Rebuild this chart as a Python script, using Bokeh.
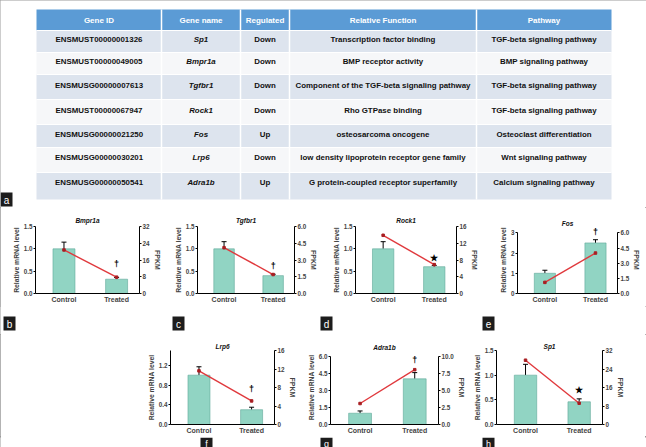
from bokeh.plotting import figure
from bokeh.models import (Range1d, LinearAxis, FixedTicker, NumeralTickFormatter,
                          Label, Whisker, TeeHead, ColumnDataSource)
from bokeh.layouts import column, row
from bokeh.embed import file_html
from bokeh.resources import INLINE
from bokeh.core.properties import value

# ---------------- table data ----------------
table_headers = ["Gene ID", "Gene name", "Regulated", "Relative Function", "Pathway"]
gene_ids = ["ENSMUST00000001326", "ENSMUST00000049005", "ENSMUSG00000007613",
            "ENSMUST00000067947", "ENSMUSG00000021250", "ENSMUSG00000030201",
            "ENSMUSG00000050541"]
gene_names = ["Sp1", "Bmpr1a", "Tgfbr1", "Rock1", "Fos", "Lrp6", "Adra1b"]
regulated = ["Down", "Down", "Down", "Down", "Up", "Down", "Up"]
functions = ["Transcription factor binding", "BMP receptor activity",
             "Component of the TGF-beta signaling pathway", "Rho GTPase binding",
             "osteosarcoma oncogene", "low density lipoprotein receptor gene family",
             "G protein-coupled receptor superfamily"]
pathways = ["TGF-beta signaling pathway", "BMP signaling pathway",
            "TGF-beta signaling pathway", "TGF-beta signaling pathway",
            "Osteoclast differentiation", "Wnt signaling pathway",
            "Calcium signaling pathway"]

# ---------------- chart data ----------------
chart_genes = ["Bmpr1a", "Tgfbr1", "Rock1", "Fos", "Lrp6", "Adra1b", "Sp1"]
categories = ["Control", "Treated"]
mrna_control = [1.0, 1.0, 1.0, 1.0, 1.0, 1.0, 1.0]
mrna_treated = [0.32, 0.40, 0.60, 2.50, 0.30, 4.05, 0.46]
mrna_err_control = [0.15, 0.16, 0.16, 0.15, 0.17, 0.20, 0.22]
mrna_err_treated = [0.04, 0.03, 0.03, 0.16, 0.05, 0.55, 0.06]
fpkm_control = [20.8, 4.1, 13.9, 1.1, 11.6, 3.1, 27.8]
fpkm_treated = [7.8, 1.7, 6.9, 4.0, 5.1, 8.1, 9.2]
sig_symbol = ["†", "†", "★", "†", "†", "†", "★"]
sig_level = [0.65, 0.61, 0.80, 3.05, 0.72, 5.74, 0.69]
left_max = [1.5, 1.5, 1.5, 3.0, 1.5, 6.0, 1.5]
left_ticks = [[0, 0.5, 1.0, 1.5], [0, 0.5, 1.0, 1.5], [0, 0.5, 1.0, 1.5],
              [0, 1, 2, 3], [0, 0.4, 0.8, 1.2], [0, 1.5, 3.0, 4.5, 6.0],
              [0, 0.5, 1.0, 1.5]]
right_max = [32, 6, 16, 6, 16, 10, 32]
right_ticks = [[0, 8, 16, 24, 32], [0, 1.5, 3.0, 4.5, 6.0], [0, 4, 8, 12, 16],
               [0, 1.5, 3.0, 4.5, 6.0], [0, 4, 8, 12, 16],
               [0, 2.5, 5.0, 7.5, 10.0], [0, 8, 16, 24, 32]]
panel_letters = ["a", "b", "c", "d", "e", "f", "g", "h"]

# ---------------- layout / style (pixel positions) ----------------
FONT = "Liberation Sans"
PW, PH = 646, 447

TABLE_BOTTOM = 207
col_edges = [36, 161, 240, 289, 476, 611]
header_band = (9, 30)
band_edges = [30, 52, 74, 99, 124, 147, 172, 199]
row_text_y = [39, 61, 85, 110, 134, 157, 182]

ROW1 = dict(top=TABLE_BOTTOM, bottom=306, ftop=226, fbot=293, title_gap=5)
STRIP1 = (306, 334)
ROW2 = dict(top=334, bottom=436, ftop=350, fbot=425, title_gap=2)
STRIP2 = (436, PH)
# fig_x0, fig_x1, frame_x0, frame_x1
row1_layout = [(0, 168, 35, 139), (168, 320, 197, 299),
               (320, 480, 355, 457), (480, PW, 517, 617)]
row2_layout = [(0, 302, 170, 274), (302, 470, 330, 438), (470, PW, 490, 602)]
# letter boxes: left, top, right, bottom, font px
letter_boxes = [(0, 192, 12, 206, 10),
                (3, 316, 15, 330, 10), (172, 316, 184, 330, 10), (320, 316, 332, 330, 10),
                (482, 316, 494, 330, 10),
                (200, 436, 212, 447, 9), (320, 436, 332, 447, 9), (482, 436, 494, 447, 9)]
HEADROOM_PX = 7   # extra space above an axis when a mark sits at its top

XR = (0.459, 2.435)
BAR_W = 0.418
BAR_FILL = "#91d4c3"
BAR_EDGE = "#5fa898"
RED = "#e0393d"
LETTER_BG = "#1c1c1c"


def fmt(ticks):
    return "0" if all(float(t).is_integer() for t in ticks) else "0.0"


def style_axis(ax):
    ax.axis_line_color = "black"
    ax.axis_line_width = 1
    ax.major_tick_line_color = "black"
    ax.major_tick_out = 2
    ax.major_tick_in = 0
    ax.minor_tick_line_color = None
    ax.major_label_text_font = FONT
    ax.major_label_text_font_style = "bold"
    ax.major_label_text_font_size = "6.3px"
    ax.major_label_standoff = 1
    ax.axis_label_text_font = FONT
    ax.axis_label_text_font_style = "bold"
    ax.axis_label_text_font_size = "6.8px"
    ax.axis_label_standoff = 1


def make_chart(i, lay, R):
    fx0, fx1, frx0, frx1 = lay
    frame_h = R["fbot"] - R["ftop"]
    pad = HEADROOM_PX if sig_level[i] > 0.95 * left_max[i] else 0
    grow = 1 + pad / frame_h
    p = figure(width=fx1 - fx0, height=R["bottom"] - R["top"],
               output_backend="svg", toolbar_location=None,
               x_range=Range1d(*XR), y_range=Range1d(0, left_max[i] * grow),
               min_border_left=frx0 - fx0, min_border_right=fx1 - frx1,
               min_border_top=R["ftop"] - pad - R["top"],
               min_border_bottom=R["bottom"] - R["fbot"],
               background_fill_color="white", border_fill_color="white",
               outline_line_color=None)
    p.grid.visible = False
    p.extra_y_ranges = {"fpkm": Range1d(0, right_max[i] * grow)}

    p.title.text = chart_genes[i]
    p.title.align = "center"
    p.title.text_font = FONT
    p.title.text_font_style = "bold italic"
    p.title.text_font_size = "6.5px"
    p.title.text_color = "#111111"
    p.title.standoff = max(0, R["title_gap"] - pad)

    xs = [1, 2]
    tops = [mrna_control[i], mrna_treated[i]]
    p.vbar(x=xs, top=tops, width=BAR_W, fill_color=BAR_FILL,
           line_color=BAR_EDGE, line_width=0.6)
    src = ColumnDataSource(dict(x=xs, lower=tops,
                                upper=[mrna_control[i] + mrna_err_control[i],
                                       mrna_treated[i] + mrna_err_treated[i]]))
    p.add_layout(Whisker(source=src, base="x", upper="upper", lower="lower",
                         dimension="height", line_color="black", line_width=1,
                         upper_head=TeeHead(size=5, line_color="black", line_width=1),
                         lower_head=None))
    fp = [fpkm_control[i], fpkm_treated[i]]
    p.line(x=xs, y=fp, y_range_name="fpkm", line_color=RED, line_width=1.4)
    p.scatter(x=xs, y=fp, y_range_name="fpkm", marker="square", size=2.5,
              color="#a81e22")

    xa = p.xaxis[0]
    style_axis(xa)
    xa.ticker = FixedTicker(ticks=xs)
    xa.major_label_overrides = {1: categories[0], 2: categories[1]}
    xa.major_tick_out = 0
    xa.major_label_text_font_size = "7px"
    xa.major_label_standoff = 2

    ya = p.yaxis[0]
    style_axis(ya)
    ya.ticker = FixedTicker(ticks=left_ticks[i])
    ya.formatter = NumeralTickFormatter(format=fmt(left_ticks[i]))
    ya.axis_label = "Relative mRNA level"
    ya.bounds = (0, left_max[i])

    ra = LinearAxis(y_range_name="fpkm", axis_label="FPKM",
                    ticker=FixedTicker(ticks=right_ticks[i]),
                    formatter=NumeralTickFormatter(format=fmt(right_ticks[i])),
                    bounds=(0, right_max[i]))
    style_axis(ra)
    ra.axis_label_text_font_size = "7px"
    p.add_layout(ra, "right")

    p.add_layout(Label(x=2, y=sig_level[i], text=sig_symbol[i], text_align="center",
                       text_baseline="middle", text_font=FONT, text_font_style="bold",
                       text_font_size="9px", text_color="black"))
    return p


def add_letters(p, idx):
    boxes = [letter_boxes[k] for k in idx]
    p.quad(left=[b[0] for b in boxes], right=[b[2] for b in boxes],
           top=[b[1] for b in boxes], bottom=[b[3] for b in boxes],
           fill_color=LETTER_BG, line_color=None)
    for k, b in zip(idx, boxes):
        p.text(x=[(b[0] + b[2]) / 2], y=[(b[1] + b[3]) / 2 + 0.5],
               text=[panel_letters[k]], text_align="center",
               text_baseline="middle", text_font=value(FONT),
               text_font_size=value(f"{b[4]}px"), text_color="white")


def blank_fig(y0, y1):
    p = figure(width=PW, height=y1 - y0, x_range=Range1d(0, PW), y_range=Range1d(y1, y0),
               x_axis_location=None, y_axis_location=None,
               output_backend="svg", toolbar_location=None,
               min_border=0, outline_line_color=None,
               background_fill_color="white", border_fill_color="white")
    p.grid.visible = False
    return p


# ---------------- table figure ----------------
tp = blank_fig(0, TABLE_BOTTOM)
tp.quad(left=[col_edges[0]], right=[col_edges[-1]], top=[header_band[0]],
        bottom=[header_band[1]], fill_color="#5b9bd5", line_color=None)
nrows = len(gene_ids)
row_fill = ["#dde4ee" if k % 2 == 0 else "#f6f7f9" for k in range(nrows)]
tp.quad(left=[col_edges[0]] * nrows, right=[col_edges[-1]] * nrows,
        top=band_edges[:-1], bottom=band_edges[1:], fill_color=row_fill, line_color=None)
inner = col_edges[1:-1]
tp.segment(x0=inner, x1=inner, y0=[header_band[0]] * len(inner),
           y1=[band_edges[-1]] * len(inner), line_color="white", line_width=1.5)
hy = band_edges[:-1]
tp.segment(x0=[col_edges[0]] * len(hy), x1=[col_edges[-1]] * len(hy), y0=hy, y1=hy,
           line_color="white", line_width=1)

centers = [(col_edges[j] + col_edges[j + 1]) / 2 for j in range(len(table_headers))]
tp.text(x=centers, y=[(header_band[0] + header_band[1]) / 2] * len(centers),
        text=table_headers, text_align="center", text_baseline="middle",
        text_font=value(FONT), text_font_style=value("bold"),
        text_font_size=value("8px"), text_color="white")
for j, col in enumerate([gene_ids, gene_names, regulated, functions, pathways]):
    tp.text(x=[centers[j]] * len(col), y=row_text_y, text=col,
            text_align="center", text_baseline="middle",
            text_font=value(FONT),
            text_font_style=value("bold italic" if j == 1 else "bold"),
            text_font_size=value("7.9px"), text_color="#111111")
add_letters(tp, [0])

charts1 = [make_chart(i, row1_layout[i], ROW1) for i in range(4)]
charts2 = [make_chart(4 + i, row2_layout[i], ROW2) for i in range(3)]

s1 = blank_fig(*STRIP1)
add_letters(s1, [1, 2, 3, 4])
s2 = blank_fig(*STRIP2)
add_letters(s2, [5, 6, 7])

layout = column(tp, row(*charts1, spacing=0), s1, row(*charts2, spacing=0), s2,
                spacing=0,
                styles={"outline": "1px solid #9a9a9a", "outline-offset": "-1px"})

open("out.html", "w").write(file_html(layout, INLINE))
